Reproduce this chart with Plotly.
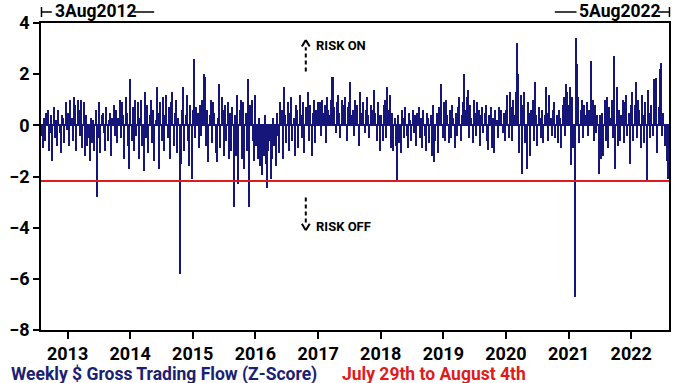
import pandas as pd
import plotly.graph_objects as go

# Weekly $ gross trading flow z-scores, weeks ending Fridays, 3 Aug 2012 .. 5 Aug 2022
y2012 = [-0.4, -0.9, 0.3, -0.6, 0.5, 0.6, -1.0, -0.3, 0.4, -1.4, 0.7, -0.5, 0.2, -0.8, 0.6, -0.3, -1.1, 0.4, 0.3, -0.7, 0.9, -0.2]
y2013 = [0.5, -0.8, 1.0, 0.3, -0.6, 1.1, 0.8, -1.0, 1.0, 0.6, -0.4, 1.0, -0.9, 0.9, -1.2, 0.4, -0.8, -0.5, -1.4, 0.3, -0.7, 0.2, -1.0, 0.6, -2.8, -0.5, 0.9, -1.1, 0.4, 0.5, -0.3, -1.0, 0.7, -0.6, 0.2, 0.5, -1.2, 0.3, 0.8, -0.4, 0.6, -0.7, 0.3, 1.0, -0.5, 0.9, 0.4, -1.3, 1.1, 0.5, -0.8, -1.7]
y2014 = [1.8, -0.6, 0.7, -1.0, 1.0, -0.4, 0.9, -1.3, 0.3, 1.0, -0.8, -1.8, 1.3, -0.5, 0.8, -1.1, 0.4, 1.0, -0.7, 0.6, -1.4, 0.2, 1.5, 0.5, -1.7, 0.9, -0.6, 1.1, -1.0, 0.4, 1.2, -0.5, 0.7, -1.3, 0.9, 1.3, -0.8, 0.5, 1.0, -1.1, 0.3, -5.8, -1.5, 0.6, 1.5, -1.0, 0.4, 1.2, -0.6, -1.6, 0.8, -2.1]
y2015 = [0.6, 2.6, -0.5, 0.7, 0.5, -0.9, 0.8, -0.4, 1.0, 2.0, 1.9, -0.8, 0.6, -1.45, 0.4, 1.0, -0.7, 0.9, 0.5, -1.1, -1.45, 0.3, 1.6, -0.9, 1.1, 0.6, -1.2, 0.8, -0.6, 0.9, -1.3, 0.5, -1.0, 0.7, -3.2, 0.4, -1.2, 1.2, -2.3, 0.6, 1.0, -1.3, 0.9, -1.7, 0.5, -1.0, 1.8, -3.2, 0.8, 1.0, -0.6, -1.4]
y2016 = [1.2, -0.8, -1.3, 0.3, -1.6, -0.9, -1.95, -1.2, 0.4, -1.5, -2.45, -1.0, -0.6, -2.1, -1.3, 0.3, -0.8, -1.6, 0.5, -0.4, -1.1, 0.9, 0.6, -1.3, 1.5, 0.4, -0.7, 0.9, -1.0, 0.5, 1.1, -0.6, 0.3, -1.2, 0.8, 0.6, -0.9, 1.2, 0.4, -0.5, 0.9, -1.1, 0.7, 0.3, 1.3, -0.6, 0.8, -1.2, 0.5, 1.0, -0.7, 0.6, 0.9]
y2017 = [0.6, 0.9, -0.4, 1.0, 0.5, 0.8, -0.7, 1.1, 0.6, 0.4, 1.0, 1.9, 1.9, 0.7, -0.3, 0.9, 1.2, 0.5, -0.5, 1.0, 0.8, 0.3, 1.1, -0.6, 0.7, 0.9, 1.7, 0.4, 0.6, -0.4, 1.0, 0.3, 0.8, -0.8, 1.3, 0.5, 0.2, 0.9, -0.3, 0.6, 1.1, 0.4, -0.5, 0.8, 0.3, 0.6, 1.4, 0.5, -0.6, 0.9, 0.4, -1.0]
y2018 = [0.4, -0.6, 0.8, 1.0, -0.5, 1.5, 0.6, 1.2, -0.9, 0.5, -1.0, 0.3, -0.8, -2.15, 0.4, -0.7, -1.1, 0.6, 0.3, -0.5, 0.7, -0.4, -0.9, 0.5, 0.2, -0.6, 0.6, -0.3, 0.4, -0.8, 0.5, 0.7, -0.5, 0.3, -0.9, 0.6, -0.4, -1.0, 0.5, 0.3, -0.7, 0.4, -1.2, 0.8, -1.45, -0.6, 0.5, -1.1, 0.7, 0.4, 1.6, -0.5]
y2019 = [0.9, -0.6, 1.0, 0.4, -0.7, 0.6, -0.5, 0.8, 0.3, -0.9, 0.5, -0.4, 0.7, 1.1, -0.6, 0.4, 0.9, 2.0, 0.6, 1.1, 1.4, -0.5, 0.8, 0.3, -0.7, 1.0, 0.5, -0.4, 0.9, 0.6, -0.8, 0.4, 0.7, -0.3, 0.5, 0.8, -0.6, -0.95, 0.4, 0.7, -0.9, 0.3, -1.1, 0.6, 0.2, -0.5, 0.7, 0.4, 0.6, -0.3, 0.5, -0.6]
y2020 = [0.6, 1.2, -0.5, 1.3, 0.7, -0.6, 1.0, 0.4, 1.3, 3.2, 2.0, -1.1, 1.2, -1.9, 0.8, 1.3, -0.7, -1.7, 0.9, 0.5, -1.2, 0.6, 1.0, -0.6, 1.7, 0.4, -0.8, 0.7, 0.3, -0.5, 0.6, -0.7, 0.4, 1.5, 0.5, -0.6, 1.2, 0.3, -0.4, 0.6, 0.9, -0.5, 0.4, -0.7, 0.6, 0.3, -0.9, 0.8, 1.1, -0.4, 1.6, 1.3]
y2021 = [0.8, 1.5, -1.55, 1.1, -0.9, -6.7, 3.4, 2.4, 1.1, -0.7, 0.6, 1.0, -0.5, 0.8, 0.4, 0.9, -0.4, 0.6, 0.3, 2.5, 1.0, -0.6, 0.8, -0.3, 0.4, -1.9, 0.4, -1.3, 0.5, -1.2, 1.0, -0.6, 1.1, -0.9, 0.7, 0.3, 1.0, -0.5, 2.7, -1.7, 1.5, -0.8, 0.6, -0.6, 0.4, 1.0, -0.7, 0.9, 1.2, -0.4, 0.5, -1.5, 0.8]
y2022 = [1.3, -0.6, 0.8, 1.7, -0.5, 1.0, 0.6, -0.9, 1.2, 0.4, -0.7, 0.9, -2.15, 1.4, 0.5, -0.5, 0.8, -0.4, 1.8, 0.6, 1.85, -1.1, 0.7, 2.2, 2.45, -0.4, 0.5, -0.8, -0.4, -1.4, -2.1]

threshold = -2.18
year_ticks = ["2013", "2014", "2015", "2016", "2017", "2018", "2019", "2020", "2021", "2022"]
start_label = "3Aug2012"
end_label = "5Aug2022"
series_label = "Weekly $ Gross Trading Flow (Z-Score)"
period_label = "July 29th to August 4th"

values = y2012 + y2013 + y2014 + y2015 + y2016 + y2017 + y2018 + y2019 + y2020 + y2021 + y2022
dates = pd.date_range("2012-08-03", periods=len(values), freq="7D")

NAVY = "#15157a"
RED = "#e01b1b"
FONT = "Roboto"

fig = go.Figure()
fig.add_trace(go.Bar(x=dates, y=values, width=7 * 86400000,
                     marker=dict(color=NAVY, line=dict(width=0))))

W, H = 680, 383
L, R, T, B = 33, 9, 23, 53
pw, ph = W - L - R, H - T - B


def px(x):
    return (x - L) / pw


def py(y):
    return (H - B - y) / ph


shapes = []
shapes.append(dict(type="line", xref="paper", x0=0, x1=1, yref="y", y0=threshold, y1=threshold,
                   line=dict(color=RED, width=2), layer="above"))
lk = dict(color="black", width=1.5)
shapes += [
    dict(type="line", xref="paper", yref="paper", x0=px(33.5), x1=px(33.5), y0=py(7), y1=py(17), line=lk),
    dict(type="line", xref="paper", yref="paper", x0=px(33.5), x1=px(44), y0=py(12), y1=py(12), line=lk),
    dict(type="line", xref="paper", yref="paper", x0=px(127), x1=px(148), y0=py(12), y1=py(12), line=lk),
    dict(type="line", xref="paper", yref="paper", x0=px(555), x1=px(577), y0=py(12), y1=py(12), line=lk),
    dict(type="line", xref="paper", yref="paper", x0=px(660), x1=px(671.5), y0=py(12), y1=py(12), line=lk),
    dict(type="line", xref="paper", yref="paper", x0=px(671.5), x1=px(671.5), y0=py(7), y1=py(17), line=lk),
]
ax = px(302)
ak = dict(color="black", width=2)
shapes += [
    dict(type="line", xref="paper", yref="y", x0=ax, x1=ax, y0=2.1, y1=3.05, line=dict(color="black", width=2, dash="4px,3px")),
    dict(type="line", xref="paper", yref="y", x0=px(298), x1=ax, y0=3.08, y1=3.33, line=ak),
    dict(type="line", xref="paper", yref="y", x0=px(306), x1=ax, y0=3.08, y1=3.33, line=ak),
    dict(type="line", xref="paper", yref="y", x0=ax, x1=ax, y0=-2.82, y1=-3.8, line=dict(color="black", width=2, dash="4px,3px")),
    dict(type="line", xref="paper", yref="y", x0=px(298), x1=ax, y0=-3.85, y1=-4.1, line=ak),
    dict(type="line", xref="paper", yref="y", x0=px(306), x1=ax, y0=-3.85, y1=-4.1, line=ak),
]


def bold(s, c="black"):
    return dict(family=FONT, size=s, color=c, weight="bold")


ann = [
    dict(text=start_label, xref="paper", yref="paper", x=px(45), y=py(11.5), xanchor="left", yanchor="middle",
         showarrow=False, font=bold(17.5)),
    dict(text=end_label, xref="paper", yref="paper", x=px(578), y=py(11.5), xanchor="left", yanchor="middle",
         showarrow=False, font=bold(17.5)),
    dict(text="RISK ON", xref="paper", yref="y", x=px(310), y=3.13, xanchor="left", yanchor="middle",
         showarrow=False, font=bold(13)),
    dict(text="RISK OFF", xref="paper", yref="y", x=px(310), y=-3.95, xanchor="left", yanchor="middle",
         showarrow=False, font=bold(13)),
    dict(text=series_label, xref="paper", yref="paper", x=px(0), y=py(374), xanchor="left", yanchor="middle",
         showarrow=False, font=bold(17.5, "#1b2070")),
    dict(text=period_label, xref="paper", yref="paper", x=px(337), y=py(374), xanchor="left", yanchor="middle",
         showarrow=False, font=bold(17.5, RED)),
]

fig.update_layout(
    width=W, height=H, margin=dict(l=L, r=R, t=T, b=B, pad=0),
    paper_bgcolor="white", plot_bgcolor="white",
    showlegend=False, bargap=0, shapes=shapes, annotations=ann,
    xaxis=dict(range=["2012-07-30", "2022-08-09"], tickmode="array",
               tickvals=[f"{y}-01-01" for y in year_ticks], ticktext=year_ticks,
               ticks="outside", ticklen=7, tickwidth=1.5, tickcolor="black",
               showline=True, linecolor="black", linewidth=1.5, mirror=True,
               showgrid=False, zeroline=False, tickfont=bold(18)),
    yaxis=dict(range=[-8, 4], dtick=2, ticks="outside", ticklen=6, tickwidth=1.5, tickcolor="black",
               showline=True, linecolor="black", linewidth=1.5, mirror=True,
               showgrid=False, zeroline=True, zerolinecolor=NAVY, zerolinewidth=1.5,
               tickfont=bold(18)),
)

fig.write_html("out.html", config={"displayModeBar": False},
               post_script="document.body.style.margin='0px';document.body.style.padding='0px';")
